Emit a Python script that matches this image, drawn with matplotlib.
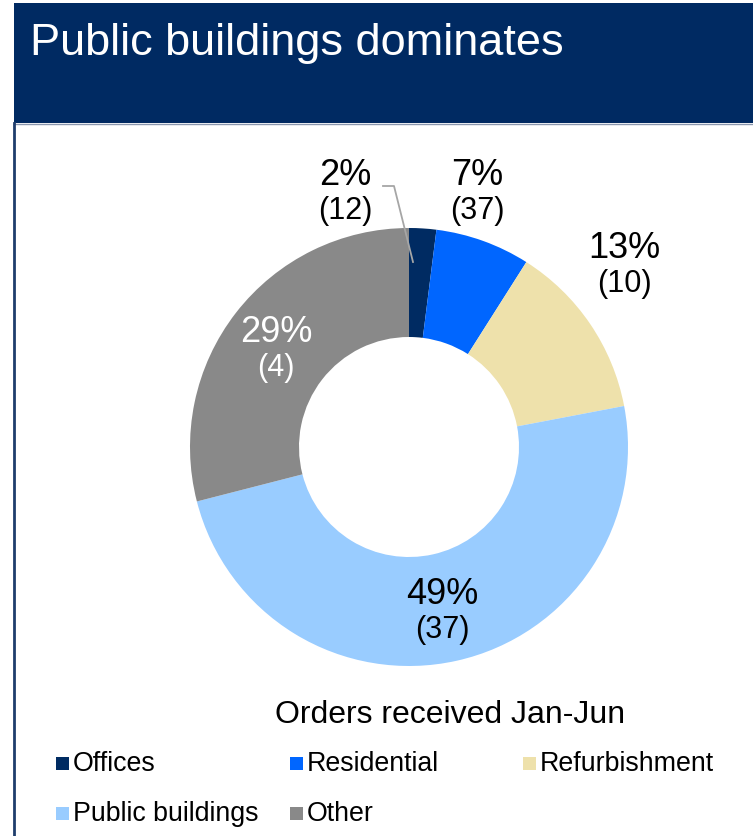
import matplotlib
matplotlib.use("Agg")
import matplotlib.pyplot as plt
from matplotlib.patches import Rectangle

plt.rcParams['font.family'] = ['Liberation Sans', 'DejaVu Sans']

# 数据
categories = ['Offices', 'Residential', 'Refurbishment', 'Public buildings', 'Other']
shares = [2, 7, 13, 49, 29]
counts = [12, 37, 10, 37, 4]
colors = ['#002B62', '#0066FF', '#EEE1AB', '#99CCFF', '#898989']
label_colors = ['black', 'black', 'black', 'black', 'white']

title = 'Public buildings dominates'
subtitle = 'Orders received Jan-Jun'

W, H = 753, 836
fig = plt.figure(figsize=(W / 100, H / 100), dpi=100)
ax = fig.add_axes([0, 0, 1, 1])


def py(y):
    # 像素坐标(从上往下) -> 数据坐标
    return H - y


# 顶部标题栏和左侧边框
ax.add_patch(Rectangle((14, py(123)), W - 14, 120, color='#002A62', lw=0))
ax.plot([14, W], [py(123.5), py(123.5)], color='#8A97AE', lw=1)
ax.plot([14, 14], [py(123), 0], color='#1F3D6C', lw=2)
ax.text(30, py(55), title, color='white', fontsize=32.5, va='baseline', ha='left')

# 环形图
cx, cy, r = 409, 447, 219
ax.pie(shares, colors=colors, startangle=90, counterclock=False,
       radius=r, center=(cx, py(cy)),
       wedgeprops=dict(width=r - 110, linewidth=0))

# 百分比和数量标签(顺序同categories)
label_xy = [(345, 185), (477, 185), (624, 258), (442, 604), (276, 342)]
for (x, y), s, c, col in zip(label_xy, shares, counts, label_colors):
    ax.text(x, py(y), '%d%%' % s, fontsize=26, ha='center', va='baseline', color=col)
    ax.text(x, py(y + 34), '(%d)' % c, fontsize=22, ha='center', va='baseline', color=col)

# 2%的引导线
ax.plot([383, 394, 413], [py(186), py(186), py(262)], color='#A6A6A6', lw=1.3)

ax.text(450, py(723), subtitle, fontsize=23, ha='center', va='baseline')

# 图例
col_x = [56, 290, 523]
row_y = [771, 821]
for i, (name, c) in enumerate(zip(categories, colors)):
    x = col_x[i % 3]
    y = row_y[i // 3]
    ax.add_patch(Rectangle((x, py(y - 1)), 13, 13, color=c, lw=0))
    ax.text(x + 17, py(y), name, fontsize=19.3, ha='left', va='baseline')

ax.set_xlim(0, W)
ax.set_ylim(0, H)
ax.set_aspect('equal')
ax.set_axis_off()

fig.savefig('out.png', dpi=100)
